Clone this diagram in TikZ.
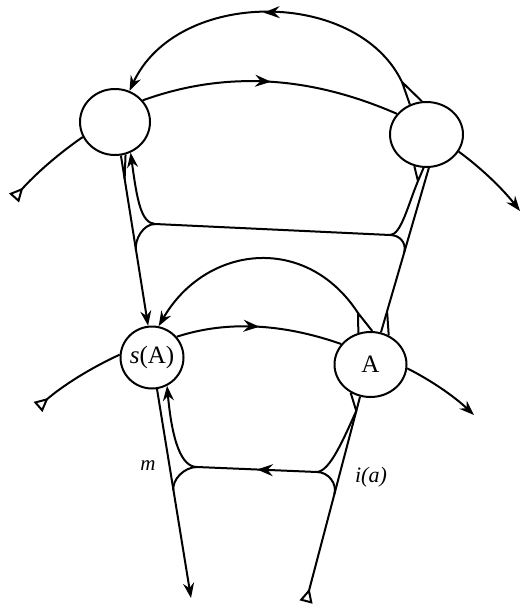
\documentclass[tikz,border=0pt]{standalone}
\usepackage{fontspec}
\setmainfont{Liberation Serif}
\usetikzlibrary{arrows.meta,shapes.geometric,decorations.markings,calc}
\begin{document}
\begin{tikzpicture}[x=1pt,y=-1pt,
  wire/.style={line width=2pt,line join=round},
  blob/.style={draw,ellipse,line width=2pt,inner sep=0pt},
  lab/.style={font=\fontsize{25}{27}\selectfont},
  endarrow/.style={-{Stealth[length=15pt,width=11pt,inset=5pt]}},
  startarrow/.style={{Stealth[length=15pt,width=11pt,inset=5pt]}-},
  tailtri/.style={-{Triangle[open,reversed,length=14pt,width=13pt]}},
  midarrow/.style={postaction={decorate},decoration={markings,mark=at position #1 with {\arrow{Stealth[length=16pt,width=12pt,inset=5.5pt]}}}}
]
\useasboundingbox (0,0) rectangle (522,605);

% vertices
\node[blob,minimum width=70pt,minimum height=66pt] (TL) at (115,122) {};
\node[blob,minimum width=73pt,minimum height=65pt] (TR) at (426.5,134.5) {};
\node[blob,minimum width=63pt,minimum height=62pt,lab] (SA) at (152,357.5) {\textit{s}(A)};
\node[blob,minimum width=72pt,minimum height=65pt,lab] (A) at (370.5,364.5) {A};

% free ends and junctions
\coordinate (TLt) at (14,198);
\coordinate (TRt) at (520,211);
\coordinate (SAt) at (38,407);
\coordinate (At) at (474,415);
\coordinate (L3e) at (191,598);
\coordinate (L4e) at (306,602);
\coordinate (J1) at (155,224);
\coordinate (J2) at (390,235);
\coordinate (J3) at (197,467);
\coordinate (J4) at (317,472);
\coordinate (W1) at (402,82);
\coordinate (W2) at (358,313);
\coordinate (W5) at (418,181);

% upper level
\draw[wire,endarrow,midarrow=0.5] (W1) .. controls (357,-12) and (177,-12) .. (TL.65);
\draw[wire] (TR.119) -- (W1) -- (TR.98);
\draw[wire,midarrow=0.5] (TL.38) .. controls (224,71) and (308,75) .. (TR.145);
\draw[wire,tailtri] (TL.205) .. controls (58,154) and (35,174.5) .. (TLt);
\draw[wire,endarrow] (TR.-28) .. controls (481.3,168.2) and (502.1,188.2) .. (TRt);

% left column between TL and SA
\draw[wire,endarrow] (TL.-80) -- (SA.97);
\coordinate (W6) at ($(TL.-80)!0.137!(SA.97)$);
\coordinate (M1) at ($(TL.-80)!0.555!(SA.97)$);
\draw[wire] (W6) -- (TL.-72);
\draw[wire,startarrow] (TL.-63) .. controls (137,200) and (141,223) .. (J1);
\draw[wire] (J1) .. controls (143,224) and (134.4,240) .. (M1);
\draw[wire] (J1) -- (J2);

% right column between TR and A
\draw[wire] (TR.-86) -- (A.72);
\coordinate (M2) at ($(TR.-86)!0.511!(A.72)$);
\coordinate (W3) at ($(TR.-86)!0.872!(A.72)$);
\draw[wire] (W3) -- (A.58);
\draw[wire] (J2) .. controls (401,235) and (408,205) .. (W5);
\draw[wire] (TR.-111) -- (W5) -- (TR.-95);
\draw[wire] (J2) .. controls (399,235) and (406.5,242) .. (M2);

% lower level
\draw[wire,endarrow] (W2) .. controls (306,233) and (205.5,245) .. (SA.78);
\draw[wire] (A.111) -- (W2) -- (A.87);
\draw[wire,midarrow=0.5] (SA.40) .. controls (228,320) and (284,324) .. (A.145);
\draw[wire,tailtri] (SA.175) .. controls (90.7,368) and (63,385.4) .. (SAt);
\draw[wire,endarrow] (A.-6) .. controls (431.3,380.5) and (453.8,396.1) .. (At);

% below SA and A
\draw[wire,endarrow] (SA.-81) -- (L3e);
\coordinate (M3) at ($(SA.-81)!0.485!(L3e)$);
\draw[wire,startarrow] (SA.-62) .. controls (172,440) and (181,467) .. (J3);
\draw[wire] (J3) .. controls (184,467) and (171.8,480) .. (M3);
\draw[wire,midarrow=0.5] (J4) -- (J3);
\draw[wire,tailtri] (A.-108) -- (L4e);
\coordinate (W4) at ($(A.-108)!0.07!(L4e)$);
\coordinate (M4) at ($(A.-108)!0.475!(L4e)$);
\draw[wire] (J4) .. controls (330,471) and (343,440) .. (W4) -- (A.-125);
\draw[wire] (J4) .. controls (328,472) and (337.4,483.4) .. (M4);

% labels
\node[font=\itshape\fontsize{21}{23}\selectfont] (mlab) at (148,466) {m};
\node[font=\itshape\fontsize{22}{24}\selectfont] (ilab) at (371,477) {i(a)};
\end{tikzpicture}
\end{document}
